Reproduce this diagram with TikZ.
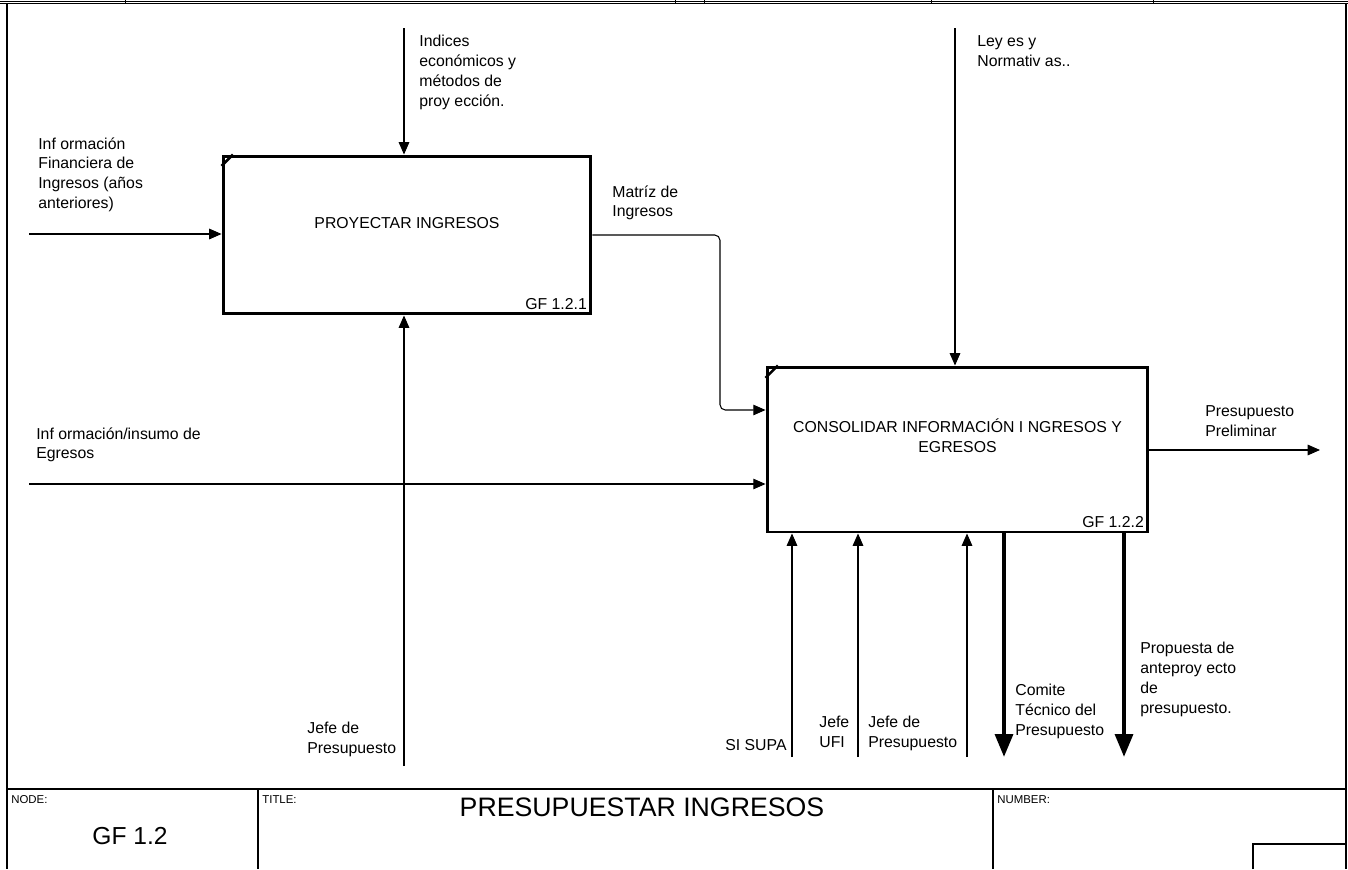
\documentclass[tikz,border=0pt]{standalone}
\usepackage{fontspec}
\setmainfont{Liberation Sans}
\usetikzlibrary{arrows.meta, positioning}
\tikzstyle{func} = [rectangle, draw=black, line width=1.7pt, inner sep=0pt]
\tikzstyle{lbl} = [inner sep=0pt, anchor=north west, align=left, font=\fontsize{9}{11.3}\selectfont]
\tikzstyle{small} = [inner sep=0pt, anchor=north west, font=\fontsize{6.5}{7}\selectfont]
\tikzstyle{flow} = [line width=0.6pt, -{Triangle[length=7pt,width=6pt]}]
\tikzstyle{call} = [line width=2.4pt, -{Triangle[length=13pt,width=10pt]}]

\begin{document}
\begin{tikzpicture}[x=0.02cm, y=-0.02cm, font=\fontsize{9}{11.3}\selectfont]
        \useasboundingbox (0,0) rectangle (1348,869);

        % Marco del formulario
        \draw[line width=0.5pt] (0,1) -- (1348,1);
        \draw[line width=0.5pt] (0,3.5) -- (1348,3.5);
        \foreach \x in {125,675,704,931,1153}
            \draw[line width=0.5pt] (\x,0) -- (\x,3.5);
        \draw[line width=0.8pt] (7,3.5) -- (7,869);
        \draw[line width=0.8pt] (1346,3.5) -- (1346,869);

        % Actividades
        \node (p1) [func, minimum width=7.36cm, minimum height=3.16cm] at (407,235) {};
        \node (p1name) [yshift=6.8pt] at (p1.center) {PROYECTAR INGRESOS};
        \node (p1id) [anchor=south east, inner sep=0pt] at ([xshift=-3pt,yshift=3pt]p1.south east) {GF 1.2.1};
        \draw[line width=1.5pt] ([yshift=-6.5pt]p1.north west) -- ([xshift=6.5pt]p1.north west);

        \node (p2) [func, minimum width=7.62cm, minimum height=3.3cm] at (957.5,449.5) {};
        \node (p2name) [align=center, yshift=8pt] at (p2.center) {CONSOLIDAR INFORMACIÓN I NGRESOS Y\\EGRESOS};
        \node (p2id) [anchor=south east, inner sep=0pt] at ([xshift=-3pt,yshift=3pt]p2.south east) {GF 1.2.2};
        \draw[line width=1.5pt] ([yshift=-7pt]p2.north west) -- ([xshift=7pt]p2.north west);

        % Extremos libres
        \coordinate (in1) at (29,234);
        \coordinate (in2) at (29,484);
        \coordinate (ctl1) at (404,28);
        \coordinate (ctl2) at (955,28);
        \coordinate (mec1) at (404,766);
        \coordinate (mec2) at (792,757);
        \coordinate (mec3) at (858,757);
        \coordinate (mec4) at (967,757);
        \coordinate (out1) at (1004,757);
        \coordinate (out2) at (1124,757);
        \coordinate (out3) at (1320,450);
        \coordinate (bend) at (720,410);

        % Etiquetas
        \node (in1lbl) [lbl] at (38,137) {Inf ormación\\Financiera de\\Ingresos (años\\anteriores)};
        \node (ctl1lbl) [lbl] at (419,35) {Indices\\económicos y\\métodos de\\proy ección.};
        \node (mtzlbl) [lbl] at (612,185) {Matríz de\\Ingresos};
        \node (ctl2lbl) [lbl] at (977,35) {Ley es y\\Normativ as..};
        \node (in2lbl) [lbl] at (36,427) {Inf ormación/insumo de\\Egresos};
        \node (out3lbl) [lbl] at (1205,405) {Presupuesto\\Preliminar};
        \node (mec1lbl) [lbl] at (307,722) {Jefe de\\Presupuesto};
        \node (mec2lbl) [lbl] at (725,739) {SI SUPA};
        \node (mec3lbl) [lbl] at (819,716) {Jefe\\UFI};
        \node (mec4lbl) [lbl] at (868,716) {Jefe de\\Presupuesto};
        \node (out1lbl) [lbl] at (1015,684) {Comite\\Técnico del\\Presupuesto};
        \node (out2lbl) [lbl] at (1140,642) {Propuesta de\\anteproy ecto\\de\\presupuesto.};

        % Flechas
        \draw [flow] (in1) -- (in1 -| p1.west);
        \draw [flow] (ctl1) -- (ctl1 |- p1.north);
        \draw [flow] (mec1) -- (mec1 |- p1.south);
        \draw [flow, rounded corners=3pt] (p1.east) -| (bend) -- (bend -| p2.west);
        \draw [flow] (in2) -- (in2 -| p2.west);
        \draw [flow] (ctl2) -- (ctl2 |- p2.north);
        \draw [flow] (p2.east |- out3) -- (out3);
        \draw [flow] (mec2) -- (mec2 |- p2.south);
        \draw [flow] (mec3) -- (mec3 |- p2.south);
        \draw [flow] (mec4) -- (mec4 |- p2.south);
        \draw [call] (out1 |- p2.south) -- (out1);
        \draw [call] (out2 |- p2.south) -- (out2);

        % Cuadro de titulo
        \draw[line width=0.8pt] (7,789) -- (1346,789);
        \draw[line width=0.6pt] (258,789) -- (258,869);
        \draw[line width=0.6pt] (993,789) -- (993,869);
        \draw[line width=0.6pt] (1253,869) |- (1346,844);
        \node (nodetag) [small] at (11,795) {NODE:};
        \node (nodeid) [font=\fontsize{14}{16}\selectfont] at (130,836) {GF 1.2};
        \node (titletag) [small] at (262,795) {TITLE:};
        \node (title) [font=\fontsize{15.2}{17}\selectfont] at (642,807) {PRESUPUESTAR INGRESOS};
        \node (numtag) [small] at (997,795) {NUMBER:};
    \end{tikzpicture}
\end{document}
